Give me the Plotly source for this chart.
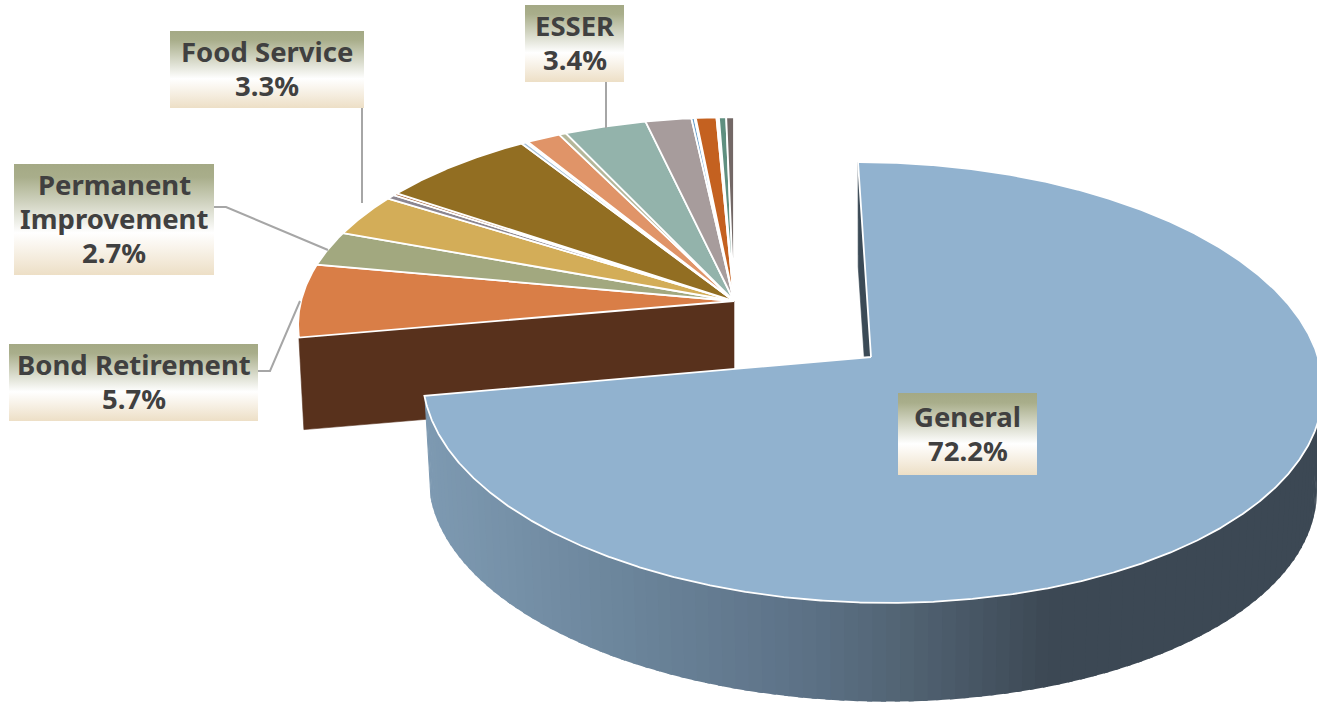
import base64
import numpy as np
import plotly.graph_objects as go

# ---- data (percent of total, clockwise from General) ----
categories = ["General", "Bond Retirement", "Permanent Improvement", "Food Service",
              "Other A", "Other B", "Other C", "Other D", "Other E", "Other F", "Other G",
              "ESSER", "Other H", "Other I", "Other J", "Other K", "Other L", "Other M", "Other N"]
values = [72.2, 5.7, 2.7, 3.3,
          0.35, 0.2, 6.5, 0.2, 0.1, 1.4, 0.3,
          3.4, 1.9, 0.13, 0.05, 0.85, 0.1, 0.3, 0.32]
colors = ["#91B2CF", "#D97E47", "#A2A87F", "#D3AD58",
          "#8C8690", "#A05A2C", "#926E22", "#A9C4DC", "#FFFFFF", "#E09468", "#B5B799",
          "#93B3AB", "#A79C9C", "#6A9FCB", "#FFFFFF", "#C46120", "#FFFFFF", "#5F8F80", "#736866"]
labelled = {"General": (967.5, ["General"]),
            "Bond Retirement": (133.5, ["Bond Retirement"]),
            "Permanent Improvement": (114, ["Permanent", "Improvement"]),
            "Food Service": (267, ["Food Service"]),
            "ESSER": (574.5, ["ESSER"])}
label_boxes = {"General": (898, 393, 1037, 475), "Bond Retirement": (9, 344, 258, 421),
               "Permanent Improvement": (14, 164, 214, 275), "Food Service": (170, 31, 364, 108),
               "ESSER": (525, 5, 624, 82)}
leaders = [([606, 606], [82, 128]), ([362, 362], [108, 203]),
           ([214, 226, 328], [207, 207, 250]), ([258, 270, 300], [371, 371, 301])]

W, H = 1317, 703
K = 0.1156
FONT = "Noto Sans"
TEXT = "#404040"
WALL_STOPS = [(424, (126, 154, 178)), (600, (110, 136, 158)), (800, (93, 114, 135)),
              (900, (82, 100, 116)), (1050, (60, 72, 84)), (1320, (60, 72, 84))]

fig = go.Figure()


def project(theta, c):
    """theta clockwise from far point, degrees; c = geometry of the disc."""
    t = np.radians(theta)
    X, Y = np.sin(t), np.cos(t)
    d = 1 + K * Y
    v = c["b"] * Y / d
    return c["cx"] + c["a"] * X / d - c["shear"] * v, c["cy"] - v


def lower(x, y, c):
    return c["cx"] + (x - c["cx"]) * c["s"], c["cy"] + c["d"] + (y - c["cy"]) * c["s"]


def poly(xs, ys, fill, line=None, width=0.6):
    fig.add_trace(go.Scatter(x=list(xs), y=list(ys), mode="lines", fill="toself", fillcolor=fill,
                             line=dict(color=line or fill, width=width),
                             hoverinfo="skip", showlegend=False))


def wedge(a0, a1, c, fill):
    th = np.linspace(a0, a1, max(3, int(abs(a1 - a0) * 4)))
    x, y = project(th, c)
    poly(np.r_[c["cx"], x, c["cx"]], np.r_[c["cy"], y, c["cy"]], fill, "#FFFFFF", 1.8)


def wall_color(x):
    xs = [s[0] for s in WALL_STOPS]
    rgb = [np.interp(x, xs, [s[1][i] for s in WALL_STOPS]) for i in range(3)]
    return "rgb(%d,%d,%d)" % tuple(rgb)


MAIN = dict(cx=871, cy=357, a=447, b=217.5, shear=13 / 195, s=0.9866, d=102)
REST = dict(cx=734, cy=301, a=433, b=205, shear=0, s=0.9885, d=92.4)

total = sum(values)
sweep = [v / total * 360 for v in values]
start = 0.0
main_end = start + sweep[0]

# rest of the disc: cut face then top wedges
a0 = main_end
rx, ry = project(a0, REST)
bx, by = lower(rx, ry, REST)
acx, acy = lower(REST["cx"], REST["cy"], REST)
poly([REST["cx"], rx, bx, REST["cx"], REST["cx"]], [REST["cy"], ry, by, acy, REST["cy"]], "#58311C")
for v, col in zip(sweep[1:], colors[1:]):
    wedge(a0, a0 + v, REST, col)
    a0 += v

# main slice: back sliver, outer wall bands, top
tx, ty = project(start, MAIN)
bx, by = lower(tx, ty, MAIN)
acx, acy = lower(MAIN["cx"], MAIN["cy"], MAIN)
poly([tx, MAIN["cx"], acx, bx, tx], [ty, MAIN["cy"], acy, by, ty], "#3B4A56")

edges = np.linspace(70, main_end, 120)
for e0, e1 in zip(edges[:-1], edges[1:]):
    th = np.array([e0, e1 + 0.6 if e1 < main_end else e1])
    x, y = project(th, MAIN)
    lx, ly = lower(x, y, MAIN)
    poly([x[0], x[1], lx[1], lx[0], x[0]], [y[0], y[1], ly[1], ly[0], y[0]], wall_color(x.mean()), width=0)
wedge(start, main_end, MAIN, colors[0])

for xs, ys in leaders:
    fig.add_trace(go.Scatter(x=xs, y=ys, mode="lines", line=dict(color="#A6A6A6", width=2),
                             hoverinfo="skip", showlegend=False))

svg = ('<svg xmlns="http://www.w3.org/2000/svg" width="100" height="100" preserveAspectRatio="none">'
       '<defs><linearGradient id="g" x1="0" y1="0" x2="0" y2="1">'
       '<stop offset="0" stop-color="#A4A985"/><stop offset="0.12" stop-color="#A9AE8B"/>'
       '<stop offset="0.62" stop-color="#FFFFFF"/><stop offset="1" stop-color="#EDDFC6"/>'
       '</linearGradient></defs><rect width="100" height="100" fill="url(#g)"/></svg>')
src = "data:image/svg+xml;base64," + base64.b64encode(svg.encode()).decode()

images, annotations = [], []
for name, v in zip(categories, values):
    if name not in labelled:
        continue
    cx, lines = labelled[name]
    x0, y0, x1, y1 = label_boxes[name]
    images.append(dict(source=src, xref="x", yref="y", x=x0, y=y0, sizex=x1 - x0, sizey=y1 - y0,
                       xanchor="left", yanchor="top", sizing="stretch", layer="above"))
    rows = lines + ["%.1f%%" % v]
    mid = (y0 + y1) / 2 - 1
    for i, row in enumerate(rows):
        annotations.append(dict(x=cx, y=mid + (i - (len(rows) - 1) / 2) * 34, text="<b>%s</b>" % row,
                                xref="x", yref="y", showarrow=False, xanchor="center", yanchor="middle",
                                font=dict(family=FONT, size=27.5, color=TEXT)))

fig.update_layout(width=W, height=H, margin=dict(l=0, r=0, t=0, b=0), paper_bgcolor="white",
                  plot_bgcolor="white", showlegend=False, images=images, annotations=annotations,
                  xaxis=dict(range=[0, W], visible=False, fixedrange=True),
                  yaxis=dict(range=[H, 0], visible=False, fixedrange=True))
fig.write_html("out.html", config={"displayModeBar": False},
               post_script="document.body.style.margin='0';document.documentElement.style.overflow='hidden';")
